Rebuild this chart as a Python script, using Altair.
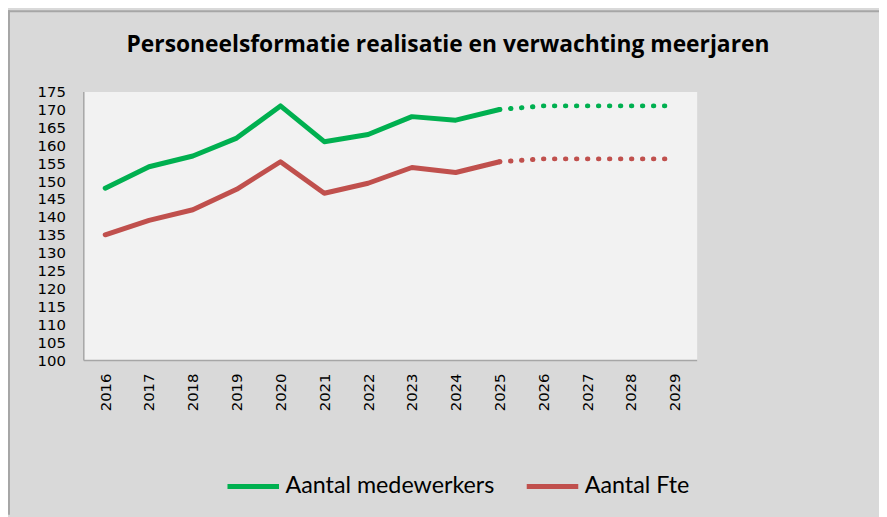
import altair as alt
import pandas as pd

# ---- data ----
years = [str(y) for y in range(2016, 2030)]
real_years = years[:10]          # 2016-2025 realised
fc_years = years[9:]             # 2025-2029 forecast (dotted)
medewerkers = [148, 154, 157, 162, 171, 161, 163, 168, 167, 170]
fte = [135, 139, 142, 147.7, 155.4, 146.6, 149.4, 153.8, 152.4, 155.4]
medewerkers_fc = [170, 171, 171, 171, 171]
fte_fc = [155.4, 156.2, 156.2, 156.2, 156.2]
series = ["Aantal medewerkers", "Aantal Fte"]
colors = ["#00b050", "#c0504d"]
y_ticks = list(range(100, 180, 5))
title = "Personeelsformatie realisatie en verwachting meerjaren"

real = pd.DataFrame({
    "year": real_years * 2,
    "value": medewerkers + fte,
    "series": [series[0]] * len(real_years) + [series[1]] * len(real_years),
})
fc = pd.DataFrame({
    "year": fc_years * 2,
    "value": medewerkers_fc + fte_fc,
    "series": [series[0]] * len(fc_years) + [series[1]] * len(fc_years),
})

W, H = 619, 271
PL, PT, PR, PB = 76, 82, 184, 156

x_enc = alt.X("year:O", title=None,
              scale=alt.Scale(type="point", padding=0.5, domain=years),
              axis=alt.Axis(labelAngle=270, labelFont="DejaVu Sans", labelFontSize=15,
                            labelColor="#000000", ticks=False, labelPadding=13,
                            domainColor="#a6a6a6", domainWidth=1.5))
y_enc = alt.Y("value:Q", title=None,
              scale=alt.Scale(domain=[100, 175], nice=False, zero=False),
              axis=alt.Axis(values=y_ticks, labelFont="DejaVu Sans", labelFontSize=15,
                            labelColor="#000000", ticks=False, grid=False, labelPadding=18,
                            domainColor="#a6a6a6", domainWidth=1.5))
color_scale = alt.Scale(domain=series, range=colors)

solid = alt.Chart(real).mark_line(strokeWidth=5, strokeCap="round", strokeJoin="round").encode(
    x=x_enc, y=y_enc,
    color=alt.Color("series:N", scale=color_scale, sort=series,
                    legend=alt.Legend(title=None, orient="none", legendX=143, legendY=370,
                                      direction="horizontal", symbolType="stroke",
                                      symbolSize=2704, symbolStrokeWidth=5,
                                      labelFont="Lato", labelFontSize=23.5, labelColor="#000000",
                                      labelOffset=4, columnPadding=22, labelLimit=400)),
)
dotted = alt.Chart(fc).mark_line(strokeWidth=5, strokeCap="round", strokeDash=[0.5, 10.6]).encode(
    x=x_enc, y=y_enc,
    color=alt.Color("series:N", scale=color_scale, legend=None),
)

one = pd.DataFrame({"a": [0]})
border_top = alt.Chart(one).mark_rule(color="#a6a6a6", strokeWidth=2).encode(
    x=alt.value(-PL), x2=alt.value(W + PR), y=alt.value(-PT + 1))
border_left = alt.Chart(one).mark_rule(color="#a6a6a6", strokeWidth=2).encode(
    x=alt.value(-PL + 1), y=alt.value(-PT), y2=alt.value(H + PB))
title_mark = alt.Chart(one).mark_text(
    text=title, font="Open Sans", fontSize=23, fontWeight="bold", color="#000000",
    align="center", baseline="middle").encode(x=alt.value(368), y=alt.value(-47))

chart = alt.layer(solid, dotted, border_top, border_left, title_mark).properties(
    width=W, height=H,
    autosize=alt.AutoSizeParams(type="none"),
    padding={"left": PL, "top": PT, "right": PR, "bottom": PB},
).configure(background="#d9d9d9").configure_view(fill="#f2f2f2", stroke="transparent")

chart.save("out.html", embed_options={"renderer": "svg", "actions": False})
